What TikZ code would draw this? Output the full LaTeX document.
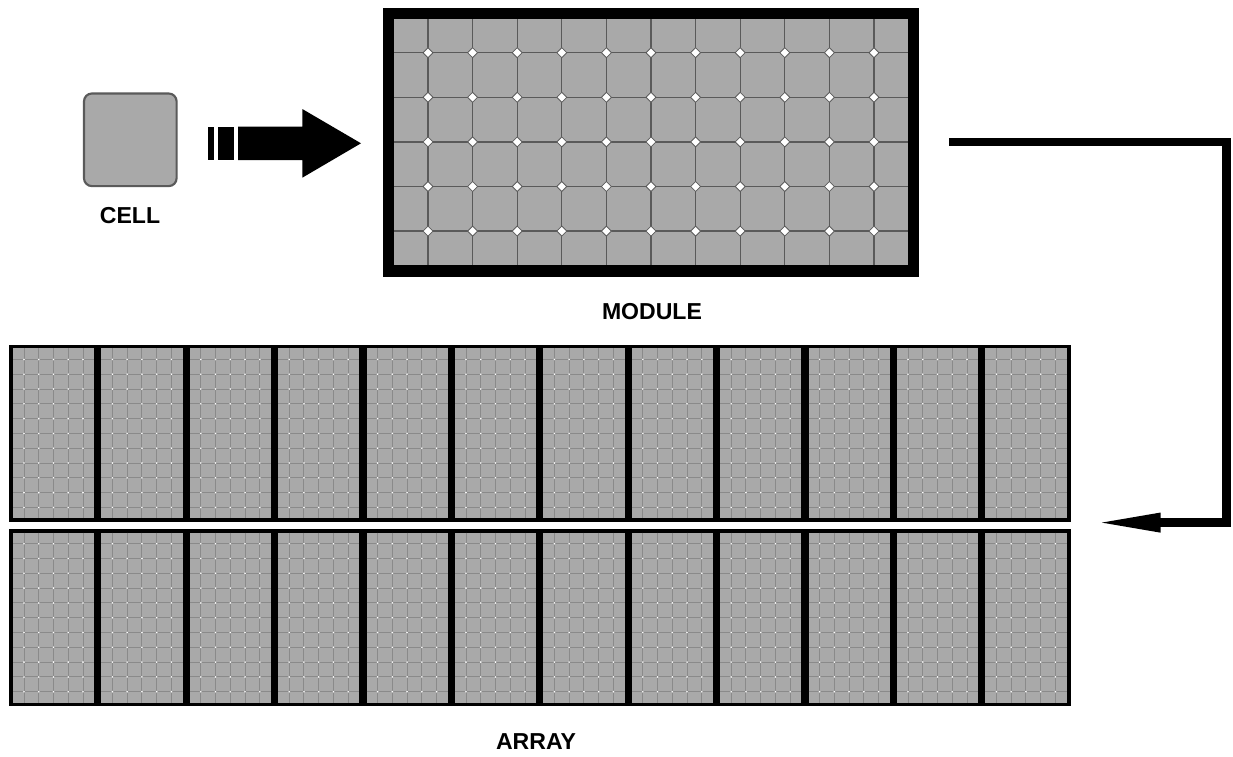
\documentclass[tikz,border=0pt]{standalone}
\usepackage{fontspec}
\setmainfont{Liberation Sans}
\usetikzlibrary{arrows.meta}
\definecolor{cellgray}{HTML}{A9A9A9}
\definecolor{gridgray}{HTML}{5A5A5A}
\definecolor{finegray}{HTML}{8A8A8A}
\tikzset{
  x=0.75pt,y=-0.75pt,
  caption/.style={font=\fontsize{17.3pt}{20pt}\selectfont\bfseries,text=black,inner sep=0pt,anchor=center},
  frame/.style={fill=black,draw=none},
  cellface/.style={fill=cellgray,draw=none},
  biggrid/.style={draw=gridgray,line width=1pt},
  finegrid/.style={draw=finegray,line width=0.75pt},
  bigjoint/.style={fill=white,draw=gridgray,line width=0.6pt},
  finejoint/.style={fill=white,draw=none},
  bentarrow/.style={draw=black,line width=6.4pt,miter limit=10,-{Triangle[length=50pt,width=13pt]}},
}
% star-shaped gap between four rounded cell corners
\newcommand{\jointstar}[4]{%
  \path[#4] (#1-#3,#2) .. controls (#1-#3*0.45,#2-#3*0.45) .. (#1,#2-#3)
    .. controls (#1+#3*0.45,#2-#3*0.45) .. (#1+#3,#2)
    .. controls (#1+#3*0.45,#2+#3*0.45) .. (#1,#2+#3)
    .. controls (#1-#3*0.45,#2+#3*0.45) .. cycle;}
% one small module of the array: left, top, bottom of the inner face
\newcommand{\arraypanel}[3]{%
  \fill[cellface] (#1,#2) rectangle (#1+81.2,#3);
  \foreach \k in {0,...,4}{\draw[finegrid] ({#1+11+14.75*\k},#2) -- ({#1+11+14.75*\k},#3);}
  \foreach \m in {0,...,10}{\draw[finegrid] (#1,{#2+11+14.8*\m}) -- (#1+81.2,{#2+11+14.8*\m});}
  \foreach \k in {0,...,4}{\foreach \m in {0,...,10}{%
    \pgfmathsetmacro{\jx}{#1+11+14.75*\k}\pgfmathsetmacro{\jy}{#2+11+14.8*\m}%
    \jointstar{\jx}{\jy}{0.9}{finejoint}}}
}
\begin{document}
\begin{tikzpicture}
\useasboundingbox (0,0) rectangle (1233,757);
\fill[white] (0,0) rectangle (1233,757);

% cell
\node[draw=gridgray,fill=cellgray,line width=1.6pt,rounded corners=6pt,minimum width=69.5pt,minimum height=69.5pt,inner sep=0pt] (cell) at (130.3,139.8) {};
\node[caption] (celllabel) at (130,215.5) {CELL};

% block arrow
\fill[black] (207.7,126.7) rectangle (214,160);
\fill[black] (218,126.7) rectangle (234,160);
\fill[black] (238,126.7) -- (302.3,126.7) -- (302.3,109) -- (361,143.3) -- (302.3,177.7) -- (302.3,160) -- (238,160) -- cycle;

% module
\fill[frame] (383,7.5) rectangle (919.3,276.8);
\fill[cellface] (394.3,19) rectangle (907.7,264.8);
\foreach \k in {0,...,10}{\draw[biggrid] ({428+44.6*\k},19) -- ({428+44.6*\k},264.8);}
\foreach \m in {0,...,4}{\draw[biggrid] (394.3,{52.7+44.6*\m}) -- (907.7,{52.7+44.6*\m});}
\foreach \k in {0,...,10}{\foreach \m in {0,...,4}{%
  \pgfmathsetmacro{\jx}{428+44.6*\k}\pgfmathsetmacro{\jy}{52.7+44.6*\m}%
  \jointstar{\jx}{\jy}{5}{bigjoint}}}
\node[caption] (modulelabel) at (652,311.5) {MODULE};

% bent connector
\coordinate (bendstart) at (949,142);
\coordinate (bendone) at (1226.3,142);
\coordinate (bendtwo) at (1226.3,522.6);
\coordinate (bendend) at (1094,522.6);
\draw[bentarrow] (bendstart) -- (bendone) -- (bendtwo) -- (bendend);

% array
\fill[frame] (8.8,344.7) rectangle (1071,522.3);
\fill[frame] (8.8,529) rectangle (1071,706.3);
\foreach \p in {0,...,11}{%
  \pgfmathsetmacro{\px}{13+88.4*\p}%
  \arraypanel{\px}{348.4}{518.4}%
  \arraypanel{\px}{532.7}{702.6}%
}
\node[caption] (arraylabel) at (536,742) {ARRAY};
\end{tikzpicture}
\end{document}
